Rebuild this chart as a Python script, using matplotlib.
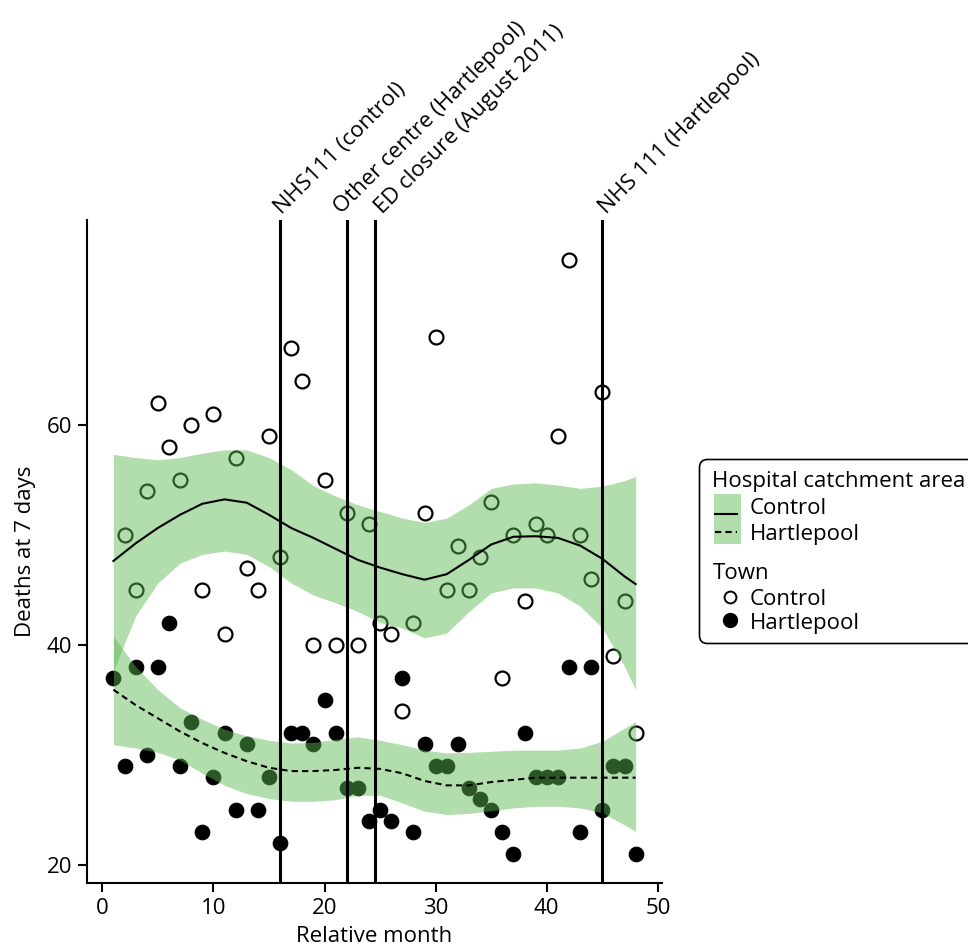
### init
import numpy as np
import matplotlib
matplotlib.use("Agg")
import matplotlib.pyplot as plt
from matplotlib.patches import FancyBboxPatch, Rectangle
from matplotlib.lines import Line2D

plt.rcParams['font.family'] = ['Open Sans', 'DejaVu Sans']
plt.rcParams['font.size'] = 16
fs = 16

### data
months = np.arange(1, 49)
deaths_control = [np.nan, 50, 45, 54, 62, 58, 55, 60, 45, 61,
                  41, 57, 47, 45, 59, 48, 67, 64, 40, 55,
                  40, 52, 40, 51, 42, 41, 34, 42, 52, 68,
                  45, 49, 45, 48, 53, 37, 50, 44, 51, 50,
                  59, 75, 50, 46, 63, 39, 44, 32]
deaths_hartlepool = [37, 29, 38, 30, 38, 42, 29, 33, 23, 28,
                     32, 25, 31, 25, 28, 22, 32, 32, 31, 35,
                     32, 27, 27, 24, 25, 24, 37, 23, 31, 29,
                     29, 31, 27, 26, 25, 23, 21, 32, 28, 28,
                     28, 38, 23, 38, 25, 29, 29, 21]

# fitted curve and confidence band, read at these months
fit_months = [1, 3, 5, 7, 9, 11, 13, 15, 17, 19, 21, 23, 25,
              27, 29, 31, 33, 35, 37, 39, 41, 43, 45, 47, 48]
control_fit = [47.6, 49.2, 50.6, 51.8, 52.8, 53.2, 52.9, 51.8, 50.6, 49.7, 48.7, 47.7, 47.0,
               46.4, 45.9, 46.4, 47.7, 49.1, 49.8, 49.85, 49.7, 49.0, 47.8, 46.2, 45.5]
control_hi = [57.3, 57.0, 56.8, 57.0, 57.4, 57.7, 57.7, 57.0, 55.9, 54.45, 53.5, 52.7, 52.1,
              51.5, 51.1, 51.5, 52.7, 54.2, 54.6, 54.7, 54.5, 54.2, 54.4, 54.9, 55.3]
control_lo = [37.6, 42.6, 45.6, 47.4, 48.2, 48.5, 48.2, 47.1, 45.6, 44.5, 43.8, 43.0, 42.0,
              41.5, 40.6, 41.05, 43.0, 44.7, 45.15, 45.15, 44.7, 43.5, 41.5, 38.0, 35.9]
hartlepool_fit = [35.9, 34.5, 33.3, 32.1, 31.05, 30.15, 29.4, 28.8, 28.5, 28.5, 28.6, 28.8, 28.7,
                  28.3, 27.6, 27.2, 27.2, 27.5, 27.7, 27.9, 27.9, 27.9, 27.9, 27.9, 27.9]
hartlepool_hi = [40.75, 38.0, 35.9, 34.25, 33.2, 32.3, 31.7, 31.3, 31.05, 31.1, 31.4, 31.6, 31.3,
                 30.9, 30.4, 30.15, 30.2, 30.3, 30.4, 30.4, 30.4, 30.6, 31.2, 32.4, 33.0]
hartlepool_lo = [30.9, 30.6, 30.2, 29.5, 28.3, 27.2, 26.45, 26.0, 25.75, 25.75, 25.9, 26.3, 26.3,
                 25.6, 24.85, 24.55, 24.65, 24.9, 25.15, 25.3, 25.3, 25.15, 24.7, 23.6, 23.0]

events = [16, 22, 24.5, 45]
event_labels = ["NHS111 (control)", "Other centre (Hartlepool)",
                "ED closure (August 2011)", "NHS 111 (Hartlepool)"]
label_shift = [1, -4, 6, 3]   # points, to sit the rotated labels like the original

band_green = "#5cb852"

### plot
fig = plt.figure(figsize=(9.68, 9.47), dpi=100)
ax = fig.add_axes([0.0896, 0.0673, 0.5946, 0.7004])

ax.plot(months, deaths_control, 'o', ms=10, mfc='white', mec='black', mew=1.6, zorder=1)
ax.plot(months, deaths_hartlepool, 'o', ms=10.5, mfc='black', mec='black', mew=0.8, zorder=1.5)

ax.fill_between(fit_months, control_lo, control_hi, color=band_green, alpha=0.47, lw=0, zorder=2)
ax.fill_between(fit_months, hartlepool_lo, hartlepool_hi, color=band_green, alpha=0.47, lw=0, zorder=2)
ax.plot(fit_months, control_fit, color='black', lw=1.5, zorder=3)
ax.plot(fit_months, hartlepool_fit, color='black', lw=1.5, dashes=(3, 2), zorder=3)

for x, lab, dx in zip(events, event_labels, label_shift):
    ax.axvline(x, color='black', lw=2.2, zorder=4)
    ax.annotate(lab, xy=(x, 1), xycoords=('data', 'axes fraction'),
                xytext=(dx, 4), textcoords='offset points', rotation=45,
                rotation_mode='anchor', ha='left', va='baseline', fontsize=fs,
                annotation_clip=False)

ax.set_xlim(-1.4, 50.4)
ax.set_ylim(18.3, 78.6)
ax.set_xticks([0, 10, 20, 30, 40, 50])
ax.set_yticks([20, 40, 60])
ax.spines['top'].set_visible(False)
ax.spines['right'].set_visible(False)
for s in ['left', 'bottom']:
    ax.spines[s].set_linewidth(1.5)
ax.tick_params(width=1.5, length=6.5, labelsize=fs, pad=4)
ax.set_xlabel("Relative month", fontsize=fs, labelpad=5)
ax.set_ylabel("Deaths at 7 days", fontsize=fs, labelpad=8)

### legend, drawn by hand in pixel positions (converted to inches)
T = fig.dpi_scale_trans
def P(px, py):
    return px / 100.0, (947 - py) / 100.0

bx, by = P(699.5, 643.5)
box = FancyBboxPatch((bx, by), 3.2, 1.84, boxstyle="round,pad=0,rounding_size=0.08",
                     transform=T, fc='white', ec='black', lw=1.2, clip_on=False)
fig.patches.append(box)

fig.text(*P(712.5, 486.5), "Hospital catchment area", transform=T, fontsize=fs, va='baseline')
rx, ry = P(713.5, 543.5)
fig.patches.append(Rectangle((rx, ry), 0.27, 0.50, transform=T, fc=band_green, alpha=0.47, lw=0))
x0, y0 = P(715, 513.5)
x1, _ = P(737, 513.5)
fig.lines.append(Line2D([x0, x1], [y0, y0], transform=T, color='black', lw=1.5))
_, y2 = P(715, 532)
fig.lines.append(Line2D([x0, x1], [y2, y2], transform=T, color='black', lw=1.5, dashes=(3, 2)))
fig.text(*P(750, 514), "Control", transform=T, fontsize=fs, va='baseline')
fig.text(*P(750, 540), "Hartlepool", transform=T, fontsize=fs, va='baseline')

fig.text(*P(712.5, 578.5), "Town", transform=T, fontsize=fs, va='baseline')
cx, cy = P(729.5, 597)
fig.lines.append(Line2D([cx], [cy], transform=T, marker='o', ms=8.5, mfc='white', mec='black', mew=1.4))
cx, cy = P(729.5, 620)
fig.lines.append(Line2D([cx], [cy], transform=T, marker='o', ms=10, mfc='black', mec='black'))
fig.text(*P(750, 605), "Control", transform=T, fontsize=fs, va='baseline')
fig.text(*P(750, 628.5), "Hartlepool", transform=T, fontsize=fs, va='baseline')

fig.savefig("out.png", dpi=100)
